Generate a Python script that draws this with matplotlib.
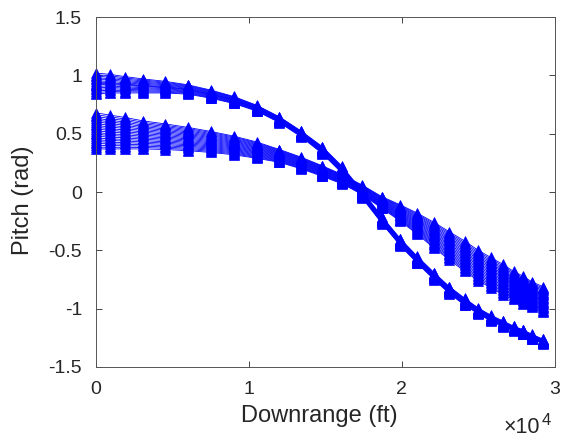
import numpy as np
import matplotlib
matplotlib.use("Agg")
import matplotlib.pyplot as plt

plt.rcParams['font.family'] = ['Liberation Sans', 'DejaVu Sans']

# downrange sample points (ft), shared by all runs
downrange = [0, 900, 1900, 3100, 4500, 6000, 7500, 9000, 10500, 12000, 13400,
             14800, 16100, 17400, 18700, 19900, 21000, 22100, 23100, 24100,
             25000, 25800, 26600, 27300, 27900, 28500, 29200]

# group A: starts high, dives steeply
pitch_a = [0.93, 0.93, 0.92, 0.91, 0.90, 0.88, 0.84, 0.79, 0.72, 0.62, 0.50,
           0.36, 0.19, -0.02, -0.24, -0.43, -0.58, -0.72, -0.84, -0.94,
           -1.02, -1.08, -1.13, -1.17, -1.20, -1.24, -1.28]
spread_a = [0.09, 0.08, 0.07, 0.06, 0.05, 0.04, 0.035, 0.03, 0.025, 0.025, 0.025,
            0.03, 0.03, 0.03, 0.03, 0.03, 0.03, 0.03, 0.03, 0.03,
            0.025, 0.025, 0.025, 0.02, 0.02, 0.02, 0.02]

# group B: starts lower, flatter descent
pitch_b = [0.525, 0.515, 0.505, 0.49, 0.475, 0.455, 0.43, 0.40, 0.36, 0.31, 0.25,
           0.18, 0.11, 0.02, -0.09, -0.18, -0.27, -0.37, -0.46, -0.55,
           -0.63, -0.69, -0.75, -0.80, -0.84, -0.88, -0.92]
spread_b = [0.155, 0.145, 0.135, 0.12, 0.11, 0.10, 0.09, 0.08, 0.07, 0.055, 0.05,
            0.045, 0.04, 0.04, 0.05, 0.07, 0.09, 0.11, 0.12, 0.13,
            0.13, 0.13, 0.13, 0.12, 0.12, 0.11, 0.11]

# relative position of each run inside its band
runs_a = [-1.0, -0.85, -0.7, -0.55, -0.4, -0.25, -0.1, 0.0, 0.1, 0.25, 0.4,
          0.55, 0.7, 0.85, 1.0]
runs_b = [-1.0, -0.9, -0.8, -0.7, -0.6, -0.5, -0.4, -0.3, -0.2, -0.1, 0.0,
          0.1, 0.2, 0.3, 0.4, 0.5, 0.6, 0.7, 0.8, 0.9, 1.0]

fig = plt.figure(figsize=(5.61, 4.40), dpi=100)
ax = fig.add_axes([0.171, 0.166, 0.818, 0.795])

x = np.array(downrange)
for base, spread, runs in [(pitch_a, spread_a, runs_a), (pitch_b, spread_b, runs_b)]:
    for r in runs:
        y = np.array(base) + r * np.array(spread)
        ax.plot(x, y, '-^', color='blue', linewidth=0.6, markersize=7.5,
                markeredgewidth=0.5, clip_on=False)

ax.set_xlim(0, 30000)
ax.set_ylim(-1.5, 1.5)
ax.set_xticks([0, 10000, 20000, 30000])
ax.set_xticklabels(['0', '1', '2', '3'])
ax.set_yticks([-1.5, -1, -0.5, 0, 0.5, 1, 1.5])
ax.set_yticklabels(['-1.5', '-1', '-0.5', '0', '0.5', '1', '1.5'])
ax.tick_params(direction='in', top=True, right=True, labelsize=14,
               colors='#262626', length=4, width=0.6, pad=10)
for sp in ax.spines.values():
    sp.set_color('#555555')
    sp.set_linewidth(0.7)

ax.set_xlabel('Downrange (ft)', fontsize=17, color='#262626')
ax.set_ylabel('Pitch (rad)', fontsize=17, color='#262626')
ax.xaxis.set_label_coords(0.486, -0.11)
ax.yaxis.set_label_coords(-0.135, 0.477)

ax.text(0.967, -0.189, '×10', transform=ax.transAxes, ha='right',
        va='baseline', fontsize=15.5, color='#262626')
ax.text(0.972, -0.166, '4', transform=ax.transAxes, ha='left',
        va='baseline', fontsize=12, color='#262626')

fig.savefig('out.png', dpi=100)
